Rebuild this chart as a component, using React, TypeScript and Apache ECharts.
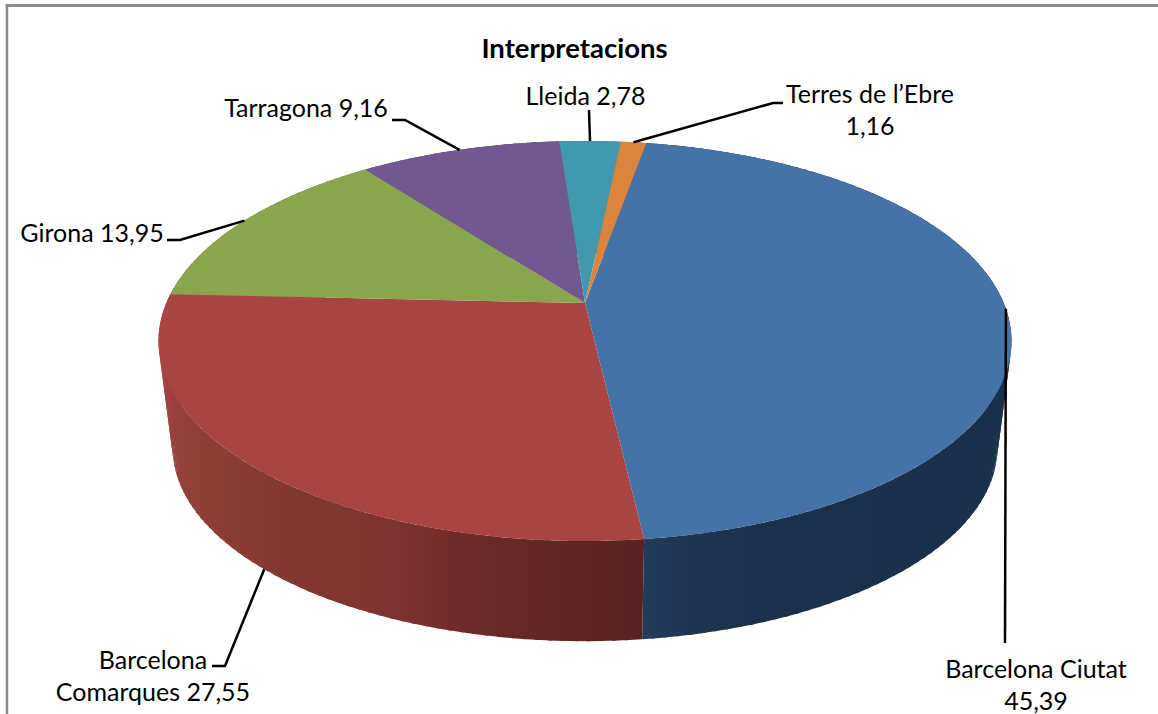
import React, { useEffect, useRef } from "react";
import * as echarts from "echarts";

const title = "Interpretacions";
const categories = ["Barcelona Ciutat", "Barcelona Comarques", "Girona", "Tarragona", "Lleida", "Terres de l\u2019Ebre"];
const values = [45.39, 27.55, 13.95, 9.16, 2.78, 1.16];
const labelBreaks = [["Barcelona Ciutat", "\n"], ["Barcelona\nComarques", " "], ["Girona", " "], ["Tarragona", " "], ["Lleida", " "], ["Terres de l\u2019Ebre", "\n"]];
const faceColors = ["#4572A7", "#A84542", "#89A54E", "#71588F", "#4198AF", "#DB843D"];
const wallStops: [number, string][][] = [
  [[0.565, "#223C5E"], [0.635, "#1E3550"], [0.705, "#1B304B"], [1, "#1A2F4A"]],
  [[0.005, "#A54442"], [0.02, "#96403B"], [0.108, "#883A33"], [0.166, "#843731"], [0.284, "#7D332F"], [0.33, "#742D2B"], [0.377, "#6A2A27"], [0.471, "#622624"], [0.565, "#5A2320"]],
  [[0, "#6E8540"], [1, "#6E8540"]],
  [[0, "#5A4672"], [1, "#5A4672"]],
  [[0, "#34798C"], [1, "#34798C"]],
  [[0, "#AF6A31"], [1, "#AF6A31"]],
];
const labelCentres = [[1036, 683.5], [153, 674.5], [92, 231.5], [306, 106.5], [585.5, 94.5], [870, 109]];
const leaderElbows = [[[1005, 643]], [[225, 666], [212, 666]], [[180, 240], [167, 240]], [[405, 120], [392, 120]], [[589, 110]], [[773, 103], [783, 103]]];

const START_DEG = 10;
const P = 0.19;
const top = { cx: 585, cy: 303, a: 418.7, b: 192.8 };
const bottom = { cx: 585, cy: 411, a: 418.7 * 0.967, b: 192.8 * 0.967 };
const FONT = "Lato";
const FONT_SIZE = 25;
const QUAD_STEP = 1.5;
const QUAD_OVERLAP = 0.5;

type Face = typeof top;
const total = values.reduce((s, v) => s + v, 0);
const rim = (f: Face, deg: number) => {
  const t = (deg * Math.PI) / 180;
  const X = Math.sin(t);
  const Y = -Math.cos(t);
  const w = 1 - P * Y;
  return [f.cx + (f.a * X) / w, f.cy + (f.b * Y) / w];
};
const startOf = (i: number) => START_DEG + (values.slice(0, i).reduce((s, v) => s + v, 0) / total) * 360;
const endOf = (i: number) => startOf(i) + (values[i] / total) * 360;
const arc = (f: Face, a0: number, a1: number) => {
  const n = Math.max(2, Math.ceil(Math.abs(a1 - a0) / 0.75));
  return Array.from({ length: n + 1 }, (_, k) => rim(f, a0 + ((a1 - a0) * k) / n));
};

const wallItem = (params: any) => {
  const i = params.dataIndex;
  const a0 = startOf(i);
  const a1 = endOf(i);
  const paint = () => new echarts.graphic.LinearGradient(158, 0, 1011, 0, wallStops[i].map(([offset, color]) => ({ offset, color })), true);
  const n = Math.max(1, Math.ceil((a1 - a0) / QUAD_STEP));
  const children = Array.from({ length: n }, (_, k) => {
    const u = a0 + ((a1 - a0) * k) / n;
    const v = Math.min(a1, a0 + ((a1 - a0) * (k + 1)) / n + QUAD_OVERLAP);
    return {
      type: "polygon",
      shape: { points: [rim(top, u), rim(top, v), rim(bottom, v), rim(bottom, u)] },
      style: { fill: paint() },
    };
  });
  return { type: "group", children };
};
const faceItem = (params: any) => {
  const i = params.dataIndex;
  return {
    type: "polygon",
    shape: { points: [[top.cx, top.cy], ...arc(top, startOf(i), endOf(i))] },
    style: { fill: faceColors[i] },
  };
};
const labelItem = (params: any) => {
  const i = params.dataIndex;
  const mid = (startOf(i) + endOf(i)) / 2;
  const front = Math.cos((mid * Math.PI) / 180) < -0.5;
  const from = rim(front && mid > 180 ? bottom : top, mid);
  const [name, sep] = labelBreaks[i];
  return {
    type: "group",
    children: [
      { type: "polyline", shape: { points: [from, ...leaderElbows[i]] }, style: { stroke: "#000", lineWidth: 2.5, fill: null } },
      {
        type: "text",
        style: {
          x: labelCentres[i][0],
          y: labelCentres[i][1],
          text: `${name}${sep}${String(values[i]).replace(".", ",")}`,
          align: "center",
          verticalAlign: "middle",
          lineHeight: 32,
          fontFamily: FONT,
          fontSize: FONT_SIZE,
          fill: "#000",
        },
      },
    ],
  };
};

export default function App() {
  const ref = useRef<HTMLDivElement>(null);
  useEffect(() => {
    const chart = echarts.init(ref.current!, undefined, { renderer: "svg" });
    const base = { type: "custom", coordinateSystem: "none", silent: true, data: values };
    chart.setOption({
      animation: false,
      backgroundColor: "#fff",
      title: {
        text: title,
        left: 569.5,
        top: 28,
        textAlign: "center",
        textStyle: { fontFamily: FONT, fontSize: 27.5, fontWeight: "bold", color: "#000" },
      },
      graphic: [
        { type: "line", shape: { x1: 5.5, y1: 5.5, x2: 1158, y2: 5.5 }, style: { stroke: "#8C8C8C", lineWidth: 3 } },
        { type: "line", shape: { x1: 7, y1: 4, x2: 7, y2: 714 }, style: { stroke: "#8C8C8C", lineWidth: 2.5 } },
      ],
      series: [
        { ...base, name: "walls", renderItem: wallItem, z: 2 },
        { ...base, name: "faces", renderItem: faceItem, z: 3 },
        { ...base, name: "labels", renderItem: labelItem, z: 4 },
      ],
    });
    return () => chart.dispose();
  }, []);
  return <div ref={ref} style={{ position: "fixed", left: 0, top: 0, width: 1158, height: 714 }} />;
}
